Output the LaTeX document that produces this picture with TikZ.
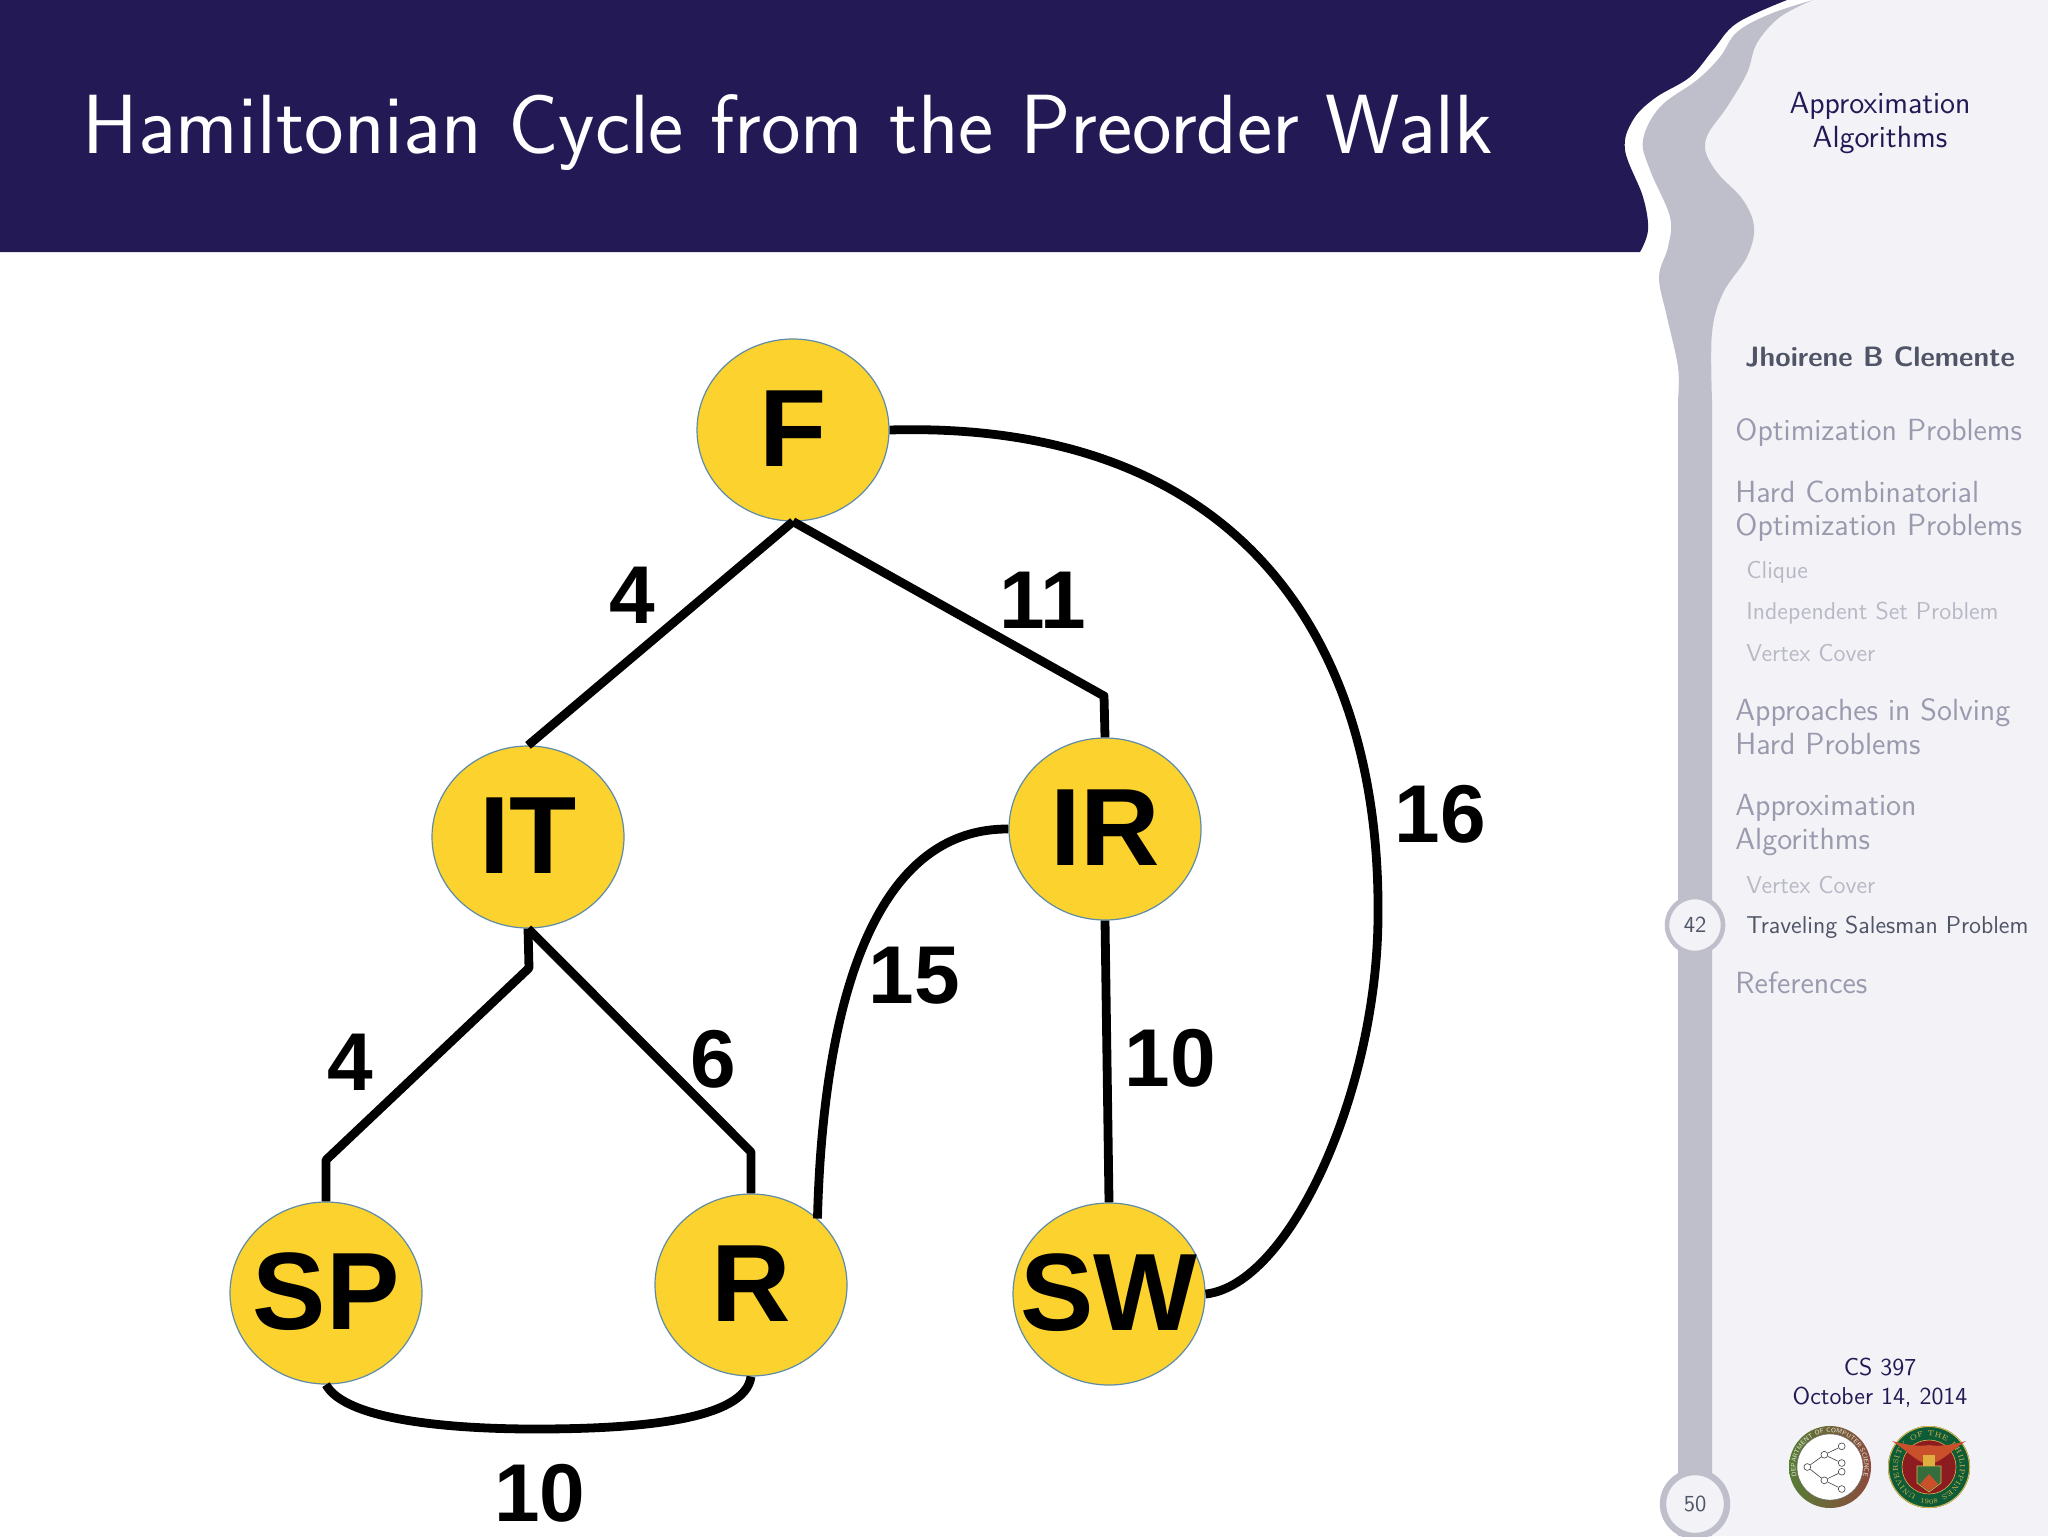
\documentclass[tikz,border=0pt]{standalone}
\usepackage{fontspec}
\usetikzlibrary{shapes.geometric,decorations.text,calc}
\newfontfamily\arialb{Liberation Sans}
\newcommand\vtext[1]{\makebox[0pt]{\raisebox{-0.335em}[0pt][0pt]{#1}}}
\definecolor{navy}{HTML}{231A55}
\definecolor{barc}{HTML}{BFBFCB}
\definecolor{sidebg}{HTML}{F2F2F7}
\definecolor{fadeA}{HTML}{9A9AAE}
\definecolor{fadeB}{HTML}{B9B9C6}
\definecolor{darkT}{HTML}{4F5566}
\definecolor{gold}{HTML}{FBD22E}
\definecolor{rim}{HTML}{5E8CA8}
\definecolor{lgreen}{HTML}{5F8A3A}
\definecolor{lbrown}{HTML}{8E4A3E}
\definecolor{ugreen}{HTML}{0E5B38}
\definecolor{ured}{HTML}{8C1C20}
\definecolor{uorange}{HTML}{C9502A}
\definecolor{ugold}{HTML}{D8B64A}
\tikzset{
  vertex/.style={ellipse,draw=rim,line width=0.6pt,fill=gold,minimum width=96pt,minimum height=91pt,inner sep=0pt,
     font=\arialb\bfseries\fontsize{55}{55}\selectfont,text=black},
  edgeline/.style={line width=4.4pt,draw=black,line join=round},
  weight/.style={font=\arialb\bfseries\fontsize{41}{41}\selectfont,text=black,inner sep=0pt},
  titletext/.style={font=\sffamily\fontsize{42}{44}\selectfont,text=white,inner sep=0pt,anchor=west},
  sidecenter/.style={font=\sffamily\fontsize{15.3}{17}\selectfont,text=navy,align=center,inner sep=0pt},
  sideauthor/.style={font=\sffamily\bfseries\fontsize{14}{16.5}\selectfont,text=darkT,inner sep=0pt},
  secitem/.style={font=\sffamily\fontsize{15.3}{17}\selectfont,text=fadeA,anchor=west,inner sep=0pt},
  subitem/.style={font=\sffamily\fontsize{12.2}{14}\selectfont,text=fadeB,anchor=west,inner sep=0pt},
  subactive/.style={subitem,text=darkT},
  pagering/.style={circle,draw=barc,fill=sidebg,inner sep=0pt,text=darkT,font=\sffamily\fontsize{11.5}{13}\selectfont},
  treedot/.style={circle,draw=black!75,fill=white,line width=0.3pt,minimum size=3.4pt,inner sep=0pt},
  treeline/.style={draw=black!75,line width=0.3pt},
}
\begin{document}
\begin{tikzpicture}[x=0.5pt,y=-0.5pt]
\useasboundingbox (0,0) rectangle (2048,1536);
\fill[white] (0,0) rectangle (2048,1536);
% sidebar background
\fill[sidebg] plot[smooth,tension=0.6] coordinates {(1813,0) (1780,17) (1757,43) (1747,73) (1727,107) (1709,132) (1705,147) (1709,160) (1720,176) (1743,200) (1754,227) (1747,257) (1723,293) (1712,333) (1712,400)} -- (1712,1536) -- (2048,1536) -- (2048,0) -- cycle;
% ribbon
\fill[barc] plot[smooth,tension=0.6] coordinates {(1813,0) (1780,17) (1757,43) (1747,73) (1727,107) (1709,132) (1705,147) (1709,160) (1720,176) (1743,200) (1754,227) (1747,257) (1723,293) (1712,333) (1712,400)} -- (1712,1536) -- (1678,1536) -- (1678,400) -- plot[smooth,tension=0.6] coordinates {(1678,400) (1678,367) (1667,317) (1659,277) (1668,247) (1670,217) (1650,170) (1643,140) (1660,107) (1697,80) (1720,57) (1737,32) (1770,14) (1813,0)} -- cycle;
% title bar
\fill[navy] (0,0) -- (1787,0) -- plot[smooth,tension=0.6] coordinates {(1787,0) (1737,23) (1713,50) (1690,77) (1655,98) (1633,120) (1625,150) (1643,197) (1648,230) (1640,252)} -- (0,252) -- cycle;
\node[titletext] (title) at (82,133) {Hamiltonian Cycle from the Preorder Walk};
% sidebar text
\node[sidecenter] (stitle) at (1880,123) {Approximation\\Algorithms};
\node[sideauthor] (author) at (1880,357) {Jhoirene B Clemente};
\node[secitem] (s1) at (1735,433) {Optimization Problems};
\node[secitem] (s2a) at (1735,492) {Hard Combinatorial};
\node[secitem] (s2b) at (1735,528) {Optimization Problems};
\node[subitem] (s2c) at (1746,572) {Clique};
\node[subitem] (s2d) at (1746,613) {Independent Set Problem};
\node[subitem] (s2e) at (1746,653) {Vertex Cover};
\node[secitem] (s3a) at (1735,713) {Approaches in Solving};
\node[secitem] (s3b) at (1735,744) {Hard Problems};
\node[secitem] (s4a) at (1735,808) {Approximation};
\node[secitem] (s4b) at (1735,842) {Algorithms};
\node[subitem] (s4c) at (1746,885) {Vertex Cover};
\node[subactive] (s4d) at (1746,927) {Traveling Salesman Problem};
\node[secitem] (s5) at (1735,983) {References};
\node[pagering,line width=2.3pt,minimum size=28pt] (p42) at (1695,925) {42};
\node[pagering,line width=3.2pt,minimum size=32pt] (p50) at (1695,1504) {50};
\node[sidecenter,font=\sffamily\fontsize{12.2}{14.5}\selectfont] (course) at (1880,1383) {CS 397\\October 14, 2014};
% left logo
\begin{scope}[shift={(1830,1467)},x=0.5pt,y=0.5pt]
  \shade[left color=lgreen!90!black,right color=lbrown] (0,0) circle (41);
  \fill[white] (0,0) circle (33);
  \draw[black!60,line width=0.2pt] (0,0) circle (33);
  \path[decorate,decoration={text along path,text align=center,text={|\sffamily\fontsize{3.2}{4}\selectfont\color{white!85!lgreen}|DEPARTMENT OF COMPUTER SCIENCE}}] (210:34.5) arc (210:-30:34.5);
  \node[treedot] (t0) at (-22.7,0) {};
  \node[treedot] (t1) at (-5.7,12.3) {};
  \node[treedot] (t2) at (-5.7,-13.3) {};
  \node[treedot] (l1) at (11.7,20.7) {};
  \node[treedot] (l2) at (11.7,4) {};
  \node[treedot] (l3) at (11.7,-4.7) {};
  \node[treedot] (l4) at (11.7,-22) {};
  \draw[treeline] (t0)--(t1) (t0)--(t2) (t1)--(l1) (t1)--(l2) (t2)--(l3) (t2)--(l4);
\end{scope}
% right logo
\begin{scope}[shift={(1929,1467)},x=0.5pt,y=0.5pt]
  \fill[ugreen] (0,0) circle (41);
  \draw[ugold,line width=0.5pt] (0,0) circle (40.5);
  \fill[ured] (0,0) circle (27);
  \draw[ugold,line width=0.3pt] (0,0) circle (27);
  \path[decorate,decoration={text along path,text align=center,text={|\rmfamily\fontsize{3.6}{4}\selectfont\color{ugold}|OF THE}}] (135:31) arc (135:45:31);
  \path[decorate,decoration={text along path,text align=center,text={|\rmfamily\fontsize{3.6}{4}\selectfont\color{ugold}|UNIVERSITY}}] (250:31) arc (250:130:31);
  \path[decorate,decoration={text along path,text align=center,text={|\rmfamily\fontsize{3.6}{4}\selectfont\color{ugold}|PHILIPPINES}}] (50:31) arc (50:-70:31);
  \path[decorate,decoration={text along path,text align=center,text={|\rmfamily\fontsize{3.4}{4}\selectfont\color{ugold}|1908}}] (245:37) arc (245:295:37);
  \fill[uorange] (-37,26) .. controls (-22,22) and (-10,20) .. (0,22) .. controls (10,20) and (22,22) .. (37,26) .. controls (24,18) and (14,6) .. (0,2) .. controls (-14,6) and (-24,18) .. (-37,26) -- cycle;
  \fill[ugold!85!orange] (-6,12) -- (6,12) -- (6,-2) -- (-6,-2) -- cycle;
  \fill[ugreen!80!ugold] (-12,1) -- (12,1) -- (12,-16) -- (0,-25) -- (-12,-16) -- cycle;
  \draw[ugold,line width=0.3pt] (-12,1) -- (12,1) -- (12,-16) -- (0,-25) -- (-12,-16) -- cycle;
  \fill[uorange] (-9,-17) -- (0,-7) -- (9,-17) -- (0,-24) -- cycle;
\end{scope}
% graph
\node[vertex] (F) at (793,430) {\vtext{F}};
\node[vertex] (IT) at (528,837) {\vtext{IT}};
\node[vertex] (IR) at (1105,829) {\vtext{IR}};
\node[vertex] (SP) at (326,1293) {\vtext{SP}};
\node[vertex] (R) at (751,1285) {\vtext{R}};
\node[vertex] (SW) at (1109,1294) {\vtext{SW}};
\coordinate (kIR) at (1104,696);
\coordinate (kIT) at (529,968);
\coordinate (kSP) at (326,1160);
\coordinate (kR) at (751,1152);
\coordinate (mid) at (535,1429);
\coordinate (far) at (1378,914);
\draw[edgeline] (F.south) -- (IT.north);
\draw[edgeline] (F.south) -- (kIR) -- (IR.north);
\draw[edgeline] (IT.south) -- (kIT) -- (kSP) -- (SP.north);
\draw[edgeline] (IT.south) -- (kR) -- (R.north);
\draw[edgeline] (IR.south) -- (SW.north);
\draw[edgeline] (SP.south) .. controls (345,1420) and (450,1429) .. (mid) .. controls (640,1429) and (745,1420) .. (R.south);
\draw[edgeline] (R.45) .. controls (822,1040) and (860,828) .. (IR.west);
\draw[edgeline] (SW.east) .. controls (1290,1285) and (1378,1090) .. (far) .. controls (1380,640) and (1240,420) .. (F.east);
\node[weight] (w1) at (632,595) {4};
\node[weight] (w2) at (1043,600) {11};
\node[weight] (w3) at (1440,814) {16};
\node[weight] (w4) at (914,976) {15};
\node[weight] (w5) at (350,1062) {4};
\node[weight] (w6) at (713,1059) {6};
\node[weight] (w7) at (1170,1058) {10};
\node[weight] (w8) at (540,1493) {10};
\end{tikzpicture}
\end{document}
